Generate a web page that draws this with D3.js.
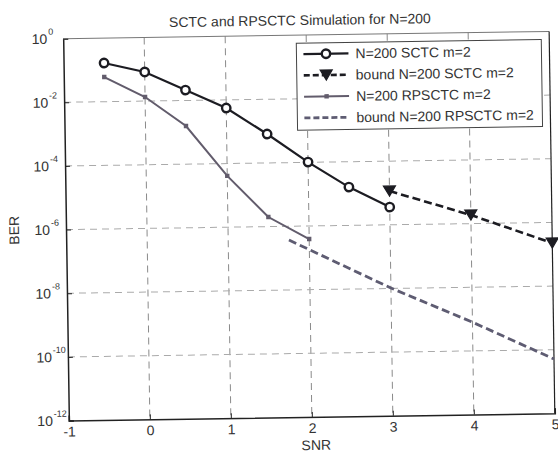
<!DOCTYPE html>
<html>
<head>
<meta charset="utf-8">
<script src="https://cdn.jsdelivr.net/npm/d3@7"></script>
<style>
  body { margin: 0; background: #fff; }
  svg text { font-family: "Liberation Sans", Arial, sans-serif; fill: #333; }
</style>
</head>
<body>
<svg id="chart" width="558" height="452"></svg>
<script>
// données
var snrSctc = [-0.5, 0, 0.5, 1, 1.5, 2, 2.5, 3];
var berSctc = [0.164, 0.082, 0.0213, 0.00555, 8.1e-4, 1.02e-4, 1.6e-5, 3.6e-6];
var snrBoundSctc = [3, 4, 5];
var berBoundSctc = [1.15e-5, 1.86e-6, 2.25e-7];
var snrRp = [-0.5, 0, 0.5, 1, 1.5, 2];
var berRp = [0.0595, 0.0134, 1.58e-3, 4.1e-5, 2.0e-6, 3.9e-7];
var snrBoundRp = [1.75, 3, 4, 5];
var berBoundRp = [3.7e-7, 1.03e-8, 8e-10, 5.1e-11];
var xTicks = [-1, 0, 1, 2, 3, 4, 5];
var yTicks = [0, -2, -4, -6, -8, -10, -12];
var legendLabels = ["N=200 SCTC m=2", "bound N=200 SCTC m=2", "N=200 RPSCTC m=2", "bound N=200 RPSCTC m=2"];

var svg = d3.select("#chart");
var margin = {top: 35, right: 6, bottom: 35, left: 66},
    width = 558 - margin.left - margin.right,
    height = 452 - margin.top - margin.bottom;

// la figure scannée est légèrement tournée
var root = svg.append("g").attr("transform", "rotate(-0.85,309,226)");
var g = root.append("g").attr("transform", "translate(" + margin.left + "," + margin.top + ")");

var x = d3.scaleLinear().domain([-1, 5]).range([0, width]);
var y = d3.scaleLog().domain([1e-12, 1]).range([height, 0]);

// grille
g.append("g").selectAll("line")
    .data(xTicks.slice(1, -1))
    .enter().append("line")
    .attr("x1", function(d) { return x(d); })
    .attr("x2", function(d) { return x(d); })
    .attr("y1", 0).attr("y2", height)
    .attr("stroke", "#8a8a8a")
    .attr("stroke-width", 1)
    .attr("stroke-dasharray", "7,5");

g.append("g").selectAll("line")
    .data(yTicks.slice(1, -1))
    .enter().append("line")
    .attr("x1", 0).attr("x2", width)
    .attr("y1", function(d) { return y(Math.pow(10, d)); })
    .attr("y2", function(d) { return y(Math.pow(10, d)); })
    .attr("stroke", "#aaa")
    .attr("stroke-width", 1)
    .attr("stroke-dasharray", "7,5");

// axes
var xAxis = g.append("g")
    .attr("transform", "translate(0," + height + ")")
    .call(d3.axisBottom(x).tickValues(xTicks).tickSize(-5).tickPadding(6).tickFormat(function(d) { return String(d); }));
var yAxis = g.append("g")
    .call(d3.axisLeft(y).tickValues(yTicks.map(function(d) { return Math.pow(10, d); })).tickSize(-5).tickFormat(""));
[xAxis, yAxis].forEach(function(a) {
    a.select(".domain").attr("stroke", "#222").attr("stroke-width", 1.5);
    a.selectAll(".tick line").attr("stroke", "#222");
});
xAxis.selectAll("text").style("font-size", "14px").attr("fill", "#333");

g.append("line").attr("x1", 0).attr("x2", width).attr("y1", 0).attr("y2", 0)
    .attr("stroke", "#777").attr("stroke-width", 1);
g.append("line").attr("x1", width).attr("x2", width).attr("y1", 0).attr("y2", height)
    .attr("stroke", "#222").attr("stroke-width", 1.2);

// étiquettes 10^n
g.append("g").selectAll("text")
    .data(yTicks)
    .enter().append("text")
    .attr("x", -16)
    .attr("y", function(d) { return y(Math.pow(10, d)) + 5; })
    .attr("text-anchor", "end")
    .style("font-size", "14px")
    .text("10");
g.append("g").selectAll("text")
    .data(yTicks)
    .enter().append("text")
    .attr("x", -15)
    .attr("y", function(d) { return y(Math.pow(10, d)) - 4; })
    .style("font-size", "9px")
    .text(function(d) { return d; });

// titres
g.append("text").attr("x", width / 2 - 6).attr("y", -10)
    .attr("text-anchor", "middle").style("font-size", "14px")
    .text("SCTC and RPSCTC Simulation for N=200");
g.append("text").attr("x", width / 2 + 4).attr("y", height + 33)
    .attr("text-anchor", "middle").style("font-size", "14px")
    .text("SNR");
g.append("text")
    .attr("transform", "translate(-47," + (height / 2) + ") rotate(-90)")
    .attr("text-anchor", "middle").style("font-size", "14px")
    .text("BER");

// courbes
var line = d3.line()
    .x(function(d) { return x(d[0]); })
    .y(function(d) { return y(d[1]); });

var series = [
    {xs: snrSctc, ys: berSctc, color: "#1c1c22", dash: null, w: 2.2, marker: "circle"},
    {xs: snrBoundSctc, ys: berBoundSctc, color: "#1c1c22", dash: "8,4", w: 2.6, marker: "tri"},
    {xs: snrRp, ys: berRp, color: "#625c6c", dash: null, w: 2, marker: "dot"},
    {xs: snrBoundRp, ys: berBoundRp, color: "#5e5c72", dash: "8,4", w: 2.8, marker: null}
];

function drawMarker(sel, type, color) {
    if (type === "circle") {
        sel.append("circle").attr("r", 4.2)
            .attr("fill", "#fff").attr("stroke", color).attr("stroke-width", 2.4);
    } else if (type === "tri") {
        sel.append("path").attr("d", "M-6,-5L6,-5L0,5Z")
            .attr("fill", color).attr("stroke", color).attr("stroke-width", 1.2);
    } else if (type === "dot") {
        sel.append("rect").attr("x", -2.2).attr("y", -2.2).attr("width", 4.4).attr("height", 4.4)
            .attr("fill", color);
    }
}

series.forEach(function(s) {
    var pts = s.xs.map(function(v, i) { return [v, s.ys[i]]; });
    g.append("path").datum(pts)
        .attr("d", line)
        .attr("fill", "none")
        .attr("stroke", s.color)
        .attr("stroke-width", s.w)
        .attr("stroke-dasharray", s.dash);
    if (s.marker) {
        g.append("g").selectAll("g")
            .data(pts)
            .enter().append("g")
            .attr("transform", function(d) { return "translate(" + x(d[0]) + "," + y(d[1]) + ")"; })
            .each(function() { drawMarker(d3.select(this), s.marker, s.color); });
    }
});

// légende
var leg = g.append("g").attr("transform", "translate(" + (299 - margin.left) + "," + (43 - margin.top) + ")");
leg.append("rect").attr("width", 245).attr("height", 87)
    .attr("fill", "#fff").attr("stroke", "#444").attr("stroke-width", 1);
var item = leg.selectAll(".item")
    .data(series)
    .enter().append("g")
    .attr("class", "item")
    .attr("transform", function(d, i) { return "translate(0," + (11 + i * 21.3) + ")"; });
item.append("line")
    .attr("x1", 7).attr("x2", 52).attr("y1", 0).attr("y2", 0)
    .attr("stroke", function(d) { return d.color; })
    .attr("stroke-width", function(d) { return d.w; })
    .attr("stroke-dasharray", function(d) { return d.dash ? "6,3" : null; });
item.append("g").attr("transform", "translate(29.5,0)")
    .each(function(d) { drawMarker(d3.select(this), d.marker, d.color); });
item.append("text")
    .attr("x", 59).attr("y", 5)
    .style("font-size", "14px")
    .text(function(d, i) { return legendLabels[i]; });
</script>
</body>
</html>
